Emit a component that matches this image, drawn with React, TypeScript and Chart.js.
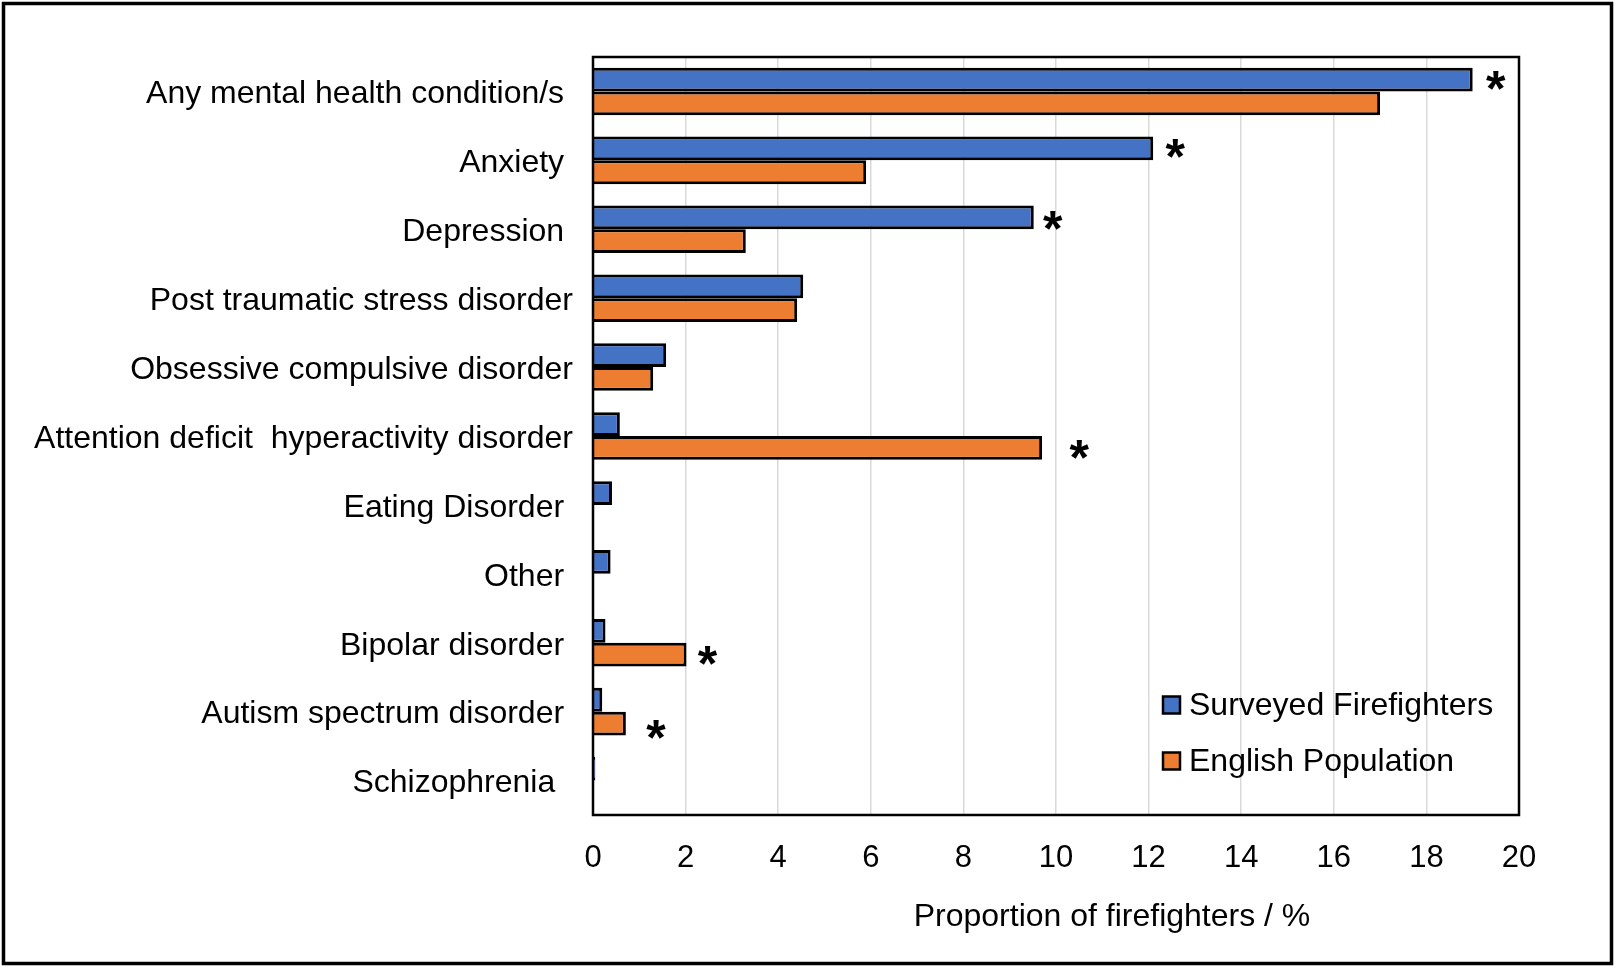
import React, { useEffect, useRef } from "react";
import { Chart, registerables } from "chart.js";

Chart.register(...registerables);

const categories = [
  "Any mental health condition/s ",
  "Anxiety ",
  "Depression ",
  "Post traumatic stress disorder",
  "Obsessive compulsive disorder",
  "Attention deficit  hyperactivity disorder",
  "Eating Disorder ",
  "Other ",
  "Bipolar disorder ",
  "Autism spectrum disorder ",
  "Schizophrenia  ",
];

const firefighters = [19.0, 12.1, 9.52, 4.54, 1.58, 0.58, 0.41, 0.38, 0.27, 0.2, 0.05];
const englishPopulation = [17.0, 5.9, 3.3, 4.41, 1.3, 9.7, null, null, 2.02, 0.71, null];

// significance markers (*) : 1 = significant difference
const sigFirefighters = [1, 1, 1, 0, 0, 0, 0, 0, 0, 0, 0];
const sigPopulation = [0, 0, 0, 0, 0, 1, 0, 0, 1, 1, 0];

const xTicks = [0, 2, 4, 6, 8, 10, 12, 14, 16, 18, 20];

const seriesNames = ["Surveyed Firefighters", "English Population"];
const xTitle = "Proportion of firefighters / %";

const FONT = '"Liberation Sans", Arial, sans-serif';
const BLUE = "#4472C4";
const ORANGE = "#ED7D31";

// per-star placement tweaks (px) : [dx from bar end, dy from bar centre]
const starOffsetsFF: Record<number, [number, number]> = { 0: [23, 1], 1: [22, 0], 2: [19, 3] };
const starOffsetsPop: Record<number, [number, number]> = { 5: [37, 2], 8: [21, 1], 9: [30, 6] };

const decorPlugin = {
  id: "decor",
  afterDatasetsDraw(chart: any) {
    const { ctx, chartArea } = chart;
    const { left, right, top, bottom } = chartArea;
    ctx.save();
    // plot frame
    ctx.strokeStyle = "#000";
    ctx.lineWidth = 2.5;
    ctx.strokeRect(left, top, right - left, bottom - top);

    // significance stars
    ctx.font = `bold 50px ${FONT}`;
    ctx.fillStyle = "#000";
    ctx.textAlign = "center";
    ctx.textBaseline = "alphabetic";
    const m = ctx.measureText("*");
    const asc = m.actualBoundingBoxAscent;
    const desc = m.actualBoundingBoxDescent;
    const drawStars = (dsIndex: number, flags: number[], offs: Record<number, [number, number]>) => {
      const meta = chart.getDatasetMeta(dsIndex);
      flags.forEach((f, i) => {
        if (!f) return;
        const el = meta.data[i];
        if (!el) return;
        const [dx, dy] = offs[i] || [22, 0];
        const cx = el.x + dx;
        const cy = el.y + dy;
        const baseline = cy - (desc - asc) / 2;
        ctx.fillText("*", cx, baseline);
      });
    };
    drawStars(0, sigFirefighters, starOffsetsFF);
    drawStars(1, sigPopulation, starOffsetsPop);

    // legend (inside plot, lower right)
    const colors = [BLUE, ORANGE];
    const legX = left + 570;
    const rows = [bottom - 110, bottom - 54];
    ctx.font = `32px ${FONT}`;
    ctx.textAlign = "left";
    ctx.textBaseline = "middle";
    rows.forEach((y, i) => {
      ctx.fillStyle = colors[i];
      ctx.fillRect(legX, y - 8.5, 17, 17);
      ctx.lineWidth = 2.5;
      ctx.strokeStyle = "#000";
      ctx.strokeRect(legX, y - 8.5, 17, 17);
      ctx.fillStyle = "#000";
      ctx.fillText(seriesNames[i], legX + 26, y + 1);
    });

    // x axis title
    ctx.textAlign = "center";
    ctx.textBaseline = "middle";
    ctx.font = `32px ${FONT}`;
    ctx.fillText(xTitle, (left + right) / 2 + 56, 917);

    ctx.restore();
  },
};

const framePlugin = {
  id: "outerFrame",
  afterDraw(chart: any) {
    const { ctx, width, height } = chart;
    ctx.save();
    ctx.strokeStyle = "#000";
    ctx.lineWidth = 3.5;
    ctx.strokeRect(3.5, 3.5, width - 6, height - 6);
    ctx.restore();
  },
};

export default function App() {
  const ref = useRef<HTMLCanvasElement | null>(null);
  useEffect(() => {
    if (!ref.current) return;
    const chart = new Chart(ref.current, {
      type: "bar",
      data: {
        labels: categories,
        datasets: [
          {
            label: seriesNames[0],
            data: firefighters,
            backgroundColor: BLUE,
            borderColor: "#000",
            borderWidth: 3,
            categoryPercentage: 0.69,
            barPercentage: 1,
          },
          {
            label: seriesNames[1],
            data: englishPopulation as any,
            backgroundColor: ORANGE,
            borderColor: "#000",
            borderWidth: 3,
            categoryPercentage: 0.69,
            barPercentage: 1,
          },
        ],
      },
      options: {
        indexAxis: "y",
        responsive: false,
        maintainAspectRatio: false,
        animation: false,
        devicePixelRatio: 1,
        layout: { padding: { left: 0, right: 95, top: 57, bottom: 0 } },
        plugins: {
          legend: { display: false },
          tooltip: { enabled: false },
          title: { display: false },
        },
        scales: {
          x: {
            type: "linear",
            min: 0,
            max: 20,
            afterBuildTicks: (scale: any) => {
              scale.ticks = xTicks.map((v) => ({ value: v }));
            },
            afterFit: (scale: any) => {
              scale.height = 151;
            },
            grid: { color: "#d9d9d9", lineWidth: 1.5, drawTicks: false },
            border: { display: false },
            ticks: {
              color: "#000",
              font: { family: FONT, size: 31 },
              padding: 25,
              maxRotation: 0,
            },
          },
          y: {
            type: "category",
            afterFit: (scale: any) => {
              scale.width = 593;
            },
            grid: { display: false, drawTicks: false },
            border: { display: false },
            ticks: {
              color: "#000",
              font: { family: FONT, size: 32 },
              padding: 20,
              labelOffset: 3,
              autoSkip: false,
            },
          },
        },
      },
      plugins: [decorPlugin, framePlugin],
    } as any);
    return () => chart.destroy();
  }, []);
  return (
    <div style={{ position: "absolute", left: 0, top: 0, width: 1614, height: 966, background: "#fff" }}>
      <canvas ref={ref} width={1614} height={966} style={{ display: "block" }} />
    </div>
  );
}
